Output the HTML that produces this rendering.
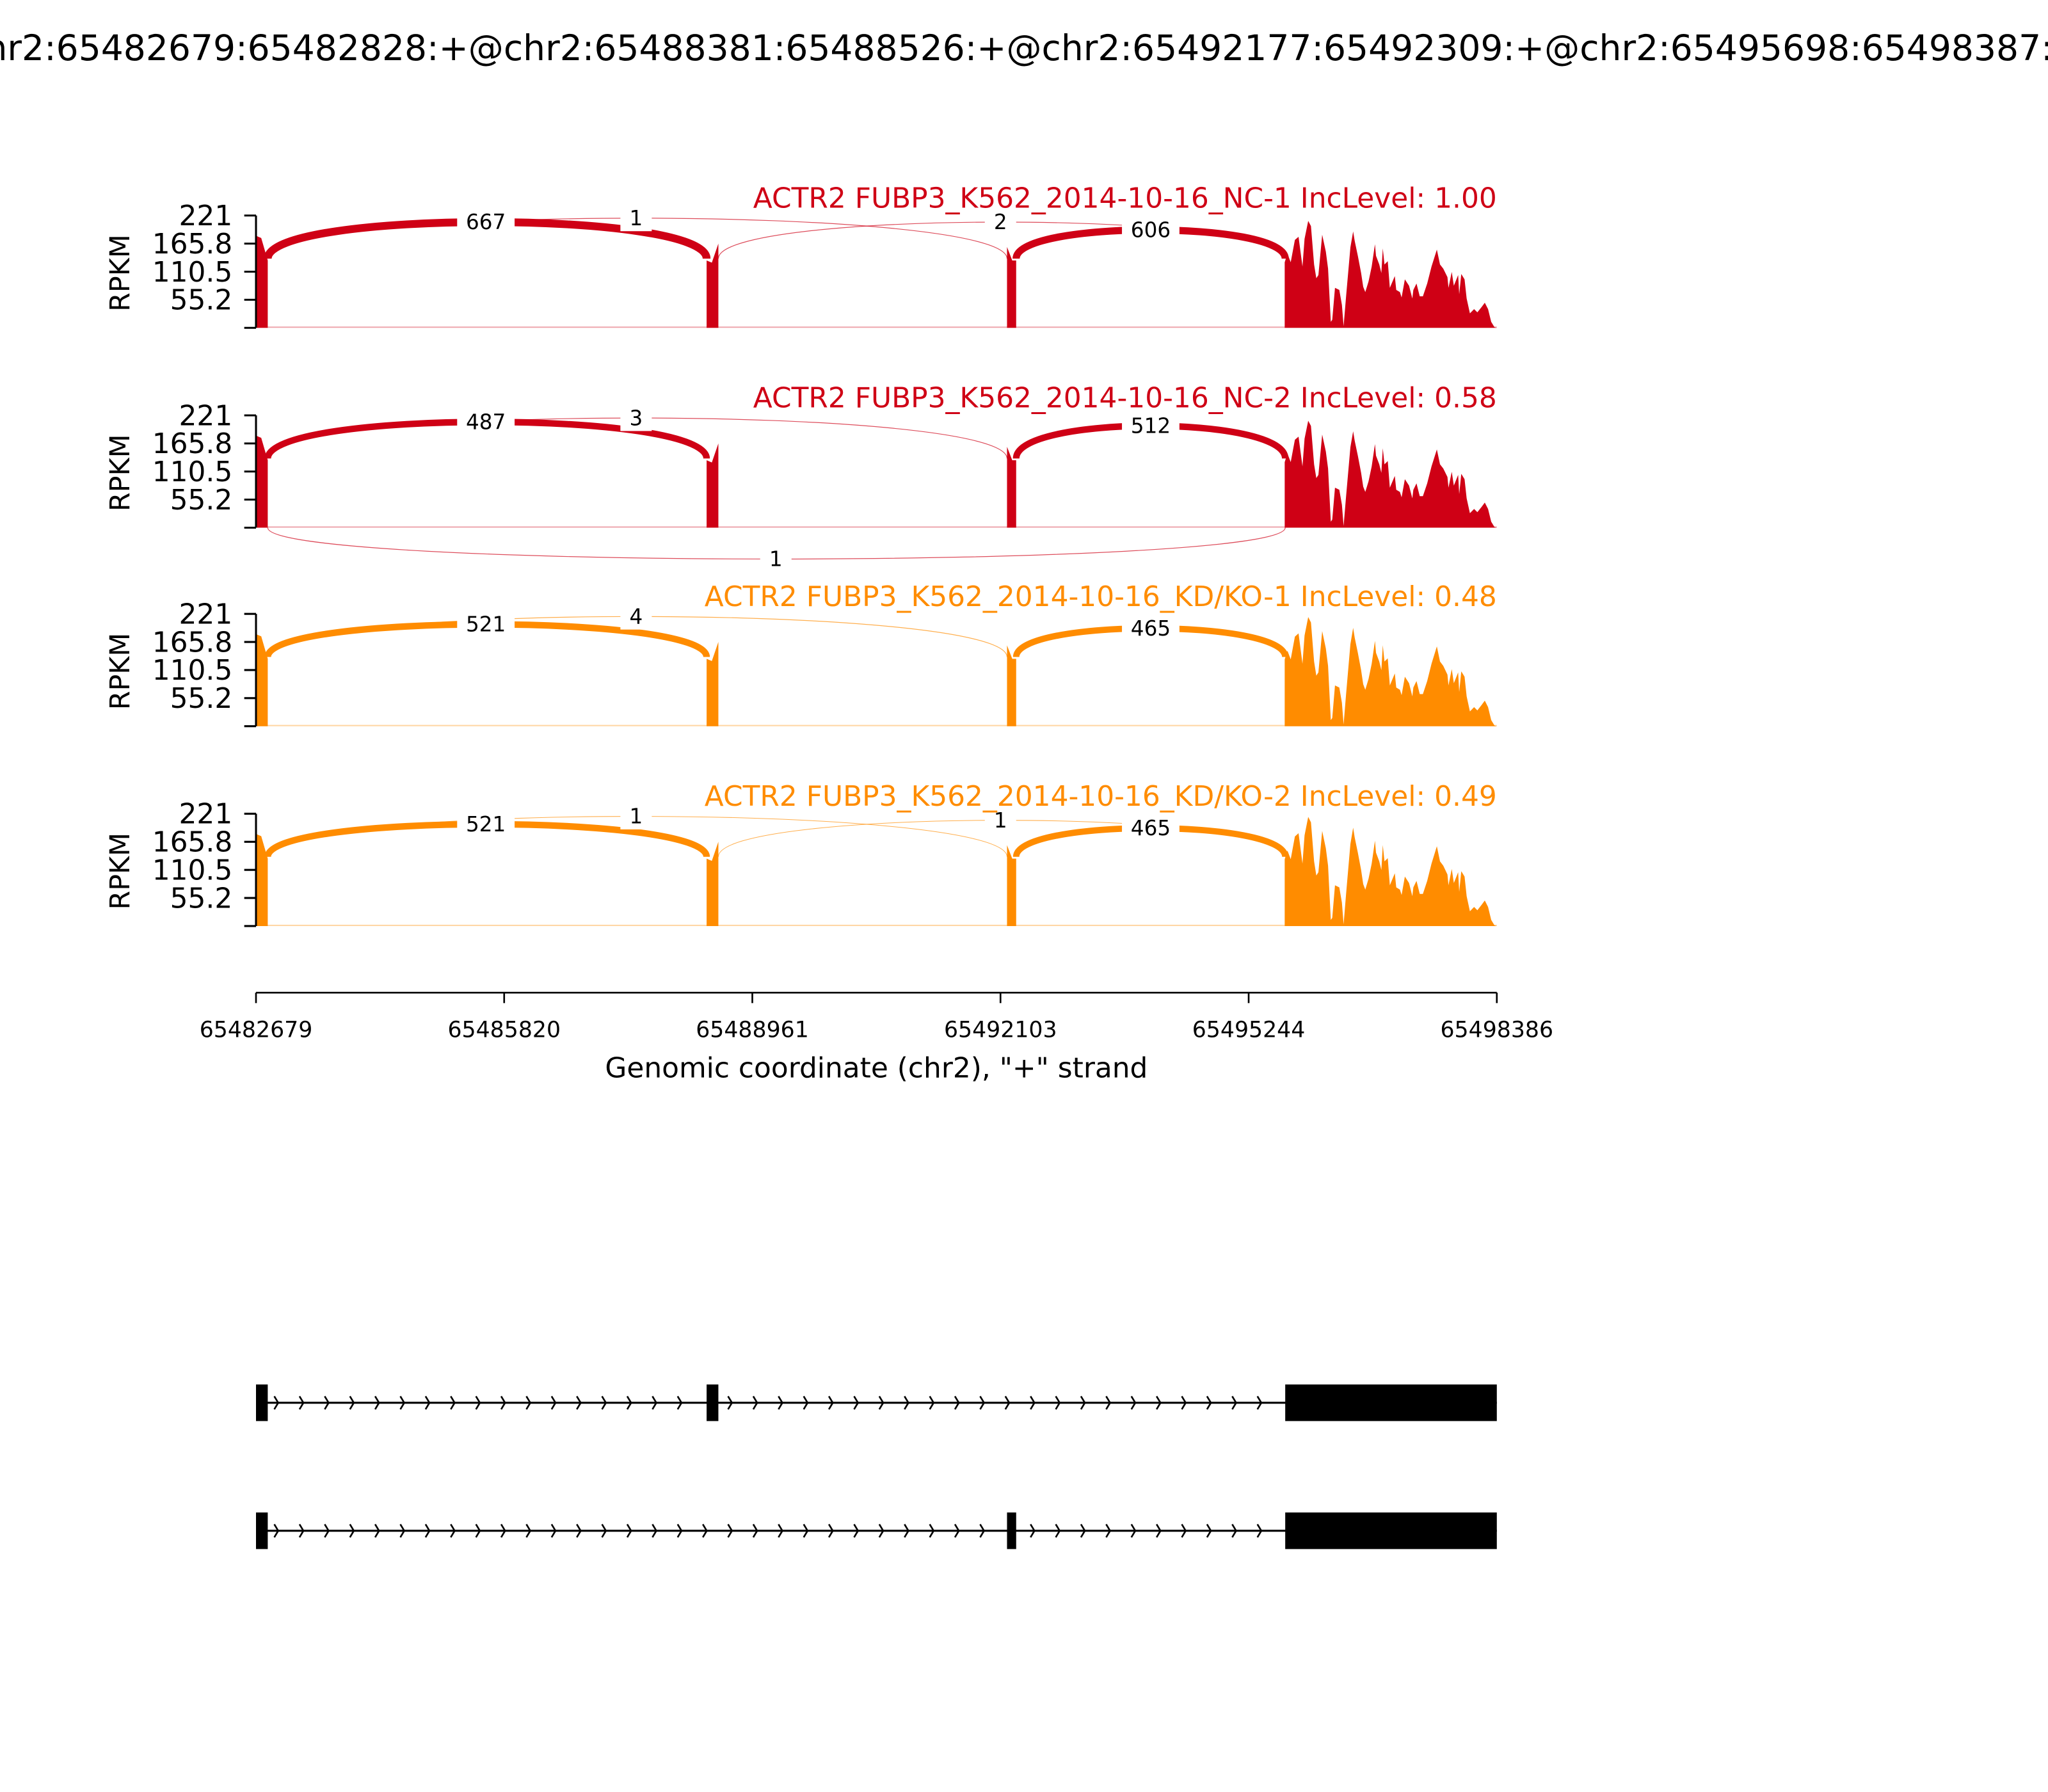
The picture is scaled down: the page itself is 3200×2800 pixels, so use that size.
<!DOCTYPE html>
<html><head><meta charset="utf-8"><style>
html,body{margin:0;padding:0;background:#fff}
svg{display:block}
text{font-family:"DejaVu Sans","Liberation Sans",sans-serif}
</style></head><body>
<svg id="s" xmlns="http://www.w3.org/2000/svg" width="3200" height="2800" viewBox="0 0 1568 1372">
<rect width="1568" height="1372" fill="#fff"/>
<text x="784" y="46" font-size="27" text-anchor="middle">chr2:65482679:65482828:+@chr2:65488381:65488526:+@chr2:65492177:65492309:+@chr2:65495698:65498387:+</text>
<g id="panels"></g>
<g stroke="#000" stroke-width="1.3">
<line x1="196" y1="760" x2="1146" y2="760"/>
<line x1="196" y1="760" x2="196" y2="768"/><line x1="386" y1="760" x2="386" y2="768"/><line x1="576" y1="760" x2="576" y2="768"/><line x1="766" y1="760" x2="766" y2="768"/><line x1="956" y1="760" x2="956" y2="768"/><line x1="1146" y1="760" x2="1146" y2="768"/>
</g>
<g font-size="17" text-anchor="middle">
<text x="196" y="794">65482679</text><text x="386" y="794">65485820</text><text x="576" y="794">65488961</text><text x="766" y="794">65492103</text><text x="956" y="794">65495244</text><text x="1146" y="794">65498386</text>
</g>
<text x="671" y="825" font-size="21.5" text-anchor="middle">Genomic coordinate (chr2), "+" strand</text>
<g id="genes"></g>
</svg>
<script>
var pts=[[172,270],[185,230],[200,270],[220,165],[237,150],[255,290],[265,160],[282,75],[295,100],[310,280],[320,345],[330,330],[348,140],[365,220],[375,300],[388,550],[395,540],[408,390],[428,400],[440,470],[448,570],[460,430],[480,200],[493,125],[500,170],[515,240],[530,320],[540,385],[550,410],[565,360],[580,290],[595,185],[600,240],[615,280],[625,320],[632,205],[640,280],[655,265],[665,390],[688,335],[695,400],[712,410],[720,435],[735,350],[755,380],[770,440],[775,400],[790,370],[805,430],[820,430],[840,370],[860,290],[885,210],[900,280],[915,300],[935,340],[940,390],[955,315],[965,380],[985,330],[990,420],[1000,325],[1015,350],[1025,440],[1040,510],[1060,490],[1075,505],[1095,480],[1110,460],[1125,490],[1140,550],[1155,575]];
var panels=[
{y:165,c:"#cf0015",t:"ACTR2 FUBP3_K562_2014-10-16_NC-1 IncLevel: 1.00",
 j:[[205,541,-30,6,"667",372],[778,984,-26,5.5,"606",881],[205,771,-33,0.6,"1",487],[550,984,-31,0.6,"2",766]]},
{y:318,c:"#cf0015",t:"ACTR2 FUBP3_K562_2014-10-16_NC-2 IncLevel: 0.58",
 j:[[205,541,-30,5,"487",372],[778,984,-28,5,"512",881],[205,771,-32,0.6,"3",487],[205,984,24,0.6,"1",594,1]]},
{y:470,c:"#ff8c00",t:"ACTR2 FUBP3_K562_2014-10-16_KD/KO-1 IncLevel: 0.48",
 j:[[205,541,-28,5,"521",372],[778,984,-25,4.8,"465",881],[205,771,-32,0.6,"4",487]]},
{y:623,c:"#ff8c00",t:"ACTR2 FUBP3_K562_2014-10-16_KD/KO-2 IncLevel: 0.49",
 j:[[205,541,-28,5,"521",372],[778,984,-25,4.8,"465",881],[205,771,-33,0.5,"1",487],[550,984,-31,0.5,"1",766]]}
];
var h="";
panels.forEach(function(p,k){
 var top=p.y,b=p.y+86,H=86;
 function Y(f){return (b-f*H).toFixed(1);}
 var d="M983.6,"+b;
 pts.forEach(function(q){var x=(1950+q[0]/3)/2.0408;var f=(578-q[1])/528;if(k>=2)f=Math.min(1,f*1.02);d+=" L"+x.toFixed(1)+","+Y(f);});
 d+=" L1146,"+b+" Z";
 h+='<path d="'+d+'" fill="'+p.c+'"/>';
 h+='<path d="M196,'+b+' L196,'+Y(0.82)+' L200,'+Y(0.8)+' L205,'+Y(0.6)+' L205,'+b+' Z" fill="'+p.c+'"/>';
 h+='<path d="M541,'+b+' L541,'+Y(0.6)+' L545,'+Y(0.58)+' L550,'+Y(0.75)+' L550,'+b+' Z" fill="'+p.c+'"/>';
 h+='<path d="M771,'+b+' L771,'+Y(0.72)+' L775,'+Y(0.6)+' L778,'+Y(0.6)+' L778,'+b+' Z" fill="'+p.c+'"/>';
 h+='<line x1="196" y1="'+(b-0.5)+'" x2="1146" y2="'+(b-0.5)+'" stroke="'+p.c+'" stroke-opacity="0.35" stroke-width="1"/>';
 var labels="";
 p.j.forEach(function(j){
  var x1=j[0],x2=j[1],below=j[6];
  var y0=below?b:top+33;
  var peak = below? b+24 : top + (j[2]<=-32?2:(j[2]<=-30?5:(j[2]<=-28?8:11)));
  var c = below? b+32 : (4*peak - y0)/3;
  h+='<path d="M'+x1+','+y0+' C'+x1+','+c.toFixed(1)+' '+x2+','+c.toFixed(1)+' '+x2+','+y0+'" fill="none" stroke="'+p.c+'" stroke-width="'+j[3]+'" stroke-opacity="'+(j[3]<1?0.7:1)+'"/>';
  var lx=j[5], t=(lx-x1)/(x2-x1);
  var ly=Math.pow(1-t,3)*y0+3*t*(1-t)*(1-t)*c+3*t*t*(1-t)*c+t*t*t*y0;
  var w=j[4].length*10+14;
  labels+='<rect x="'+(lx-w/2)+'" y="'+(ly-10)+'" width="'+w+'" height="20" fill="#fff"/><text x="'+lx+'" y="'+(ly+5.5)+'" font-size="16" text-anchor="middle">'+j[4]+'</text>';
 });
 h+=labels;
 h+='<line x1="196" y1="'+top+'" x2="196" y2="'+b+'" stroke="#000" stroke-width="1.5"/>';
 var tl=["221","165.8","110.5","55.2",""];
 for(var i=0;i<5;i++){var ty=top+i*H/4;h+='<line x1="187" y1="'+ty+'" x2="196" y2="'+ty+'" stroke="#000" stroke-width="1.5"/>';if(tl[i])h+='<text x="178" y="'+(ty+7.5)+'" font-size="21.5" text-anchor="end">'+tl[i]+'</text>';}
 h+='<text transform="translate(99,'+(top+44)+') rotate(-90)" font-size="21" text-anchor="middle">RPKM</text>';
 h+='<text x="1146" y="'+(top-6)+'" font-size="21.5" text-anchor="end" fill="'+p.c+'">'+p.t+'</text>';
});
document.getElementById("panels").innerHTML=h;
var g="";
[[1074,[[196,205],[541,550],[984,1146]]],[1172,[[196,205],[771,778],[984,1146]]]].forEach(function(tr){
 var y=tr[0];
 g+='<line x1="196" y1="'+y+'" x2="1146" y2="'+y+'" stroke="#000" stroke-width="1.5"/>';
 tr[1].forEach(function(e){g+='<rect x="'+e[0]+'" y="'+(y-14)+'" width="'+(e[1]-e[0])+'" height="28" fill="#000"/>';});
 for(var x=212;x<984;x+=19.3){
  var inEx=false;tr[1].forEach(function(e){if(x>e[0]-4&&x<e[1]+2)inEx=true;});
  if(inEx)continue;
  g+='<path d="M'+(x-2).toFixed(1)+','+(y-5)+' L'+(x+1).toFixed(1)+','+y+' L'+(x-2).toFixed(1)+','+(y+5)+'" fill="none" stroke="#000" stroke-width="1.3"/>';
 }
});
document.getElementById("genes").innerHTML=g;
</script>
</body></html>
